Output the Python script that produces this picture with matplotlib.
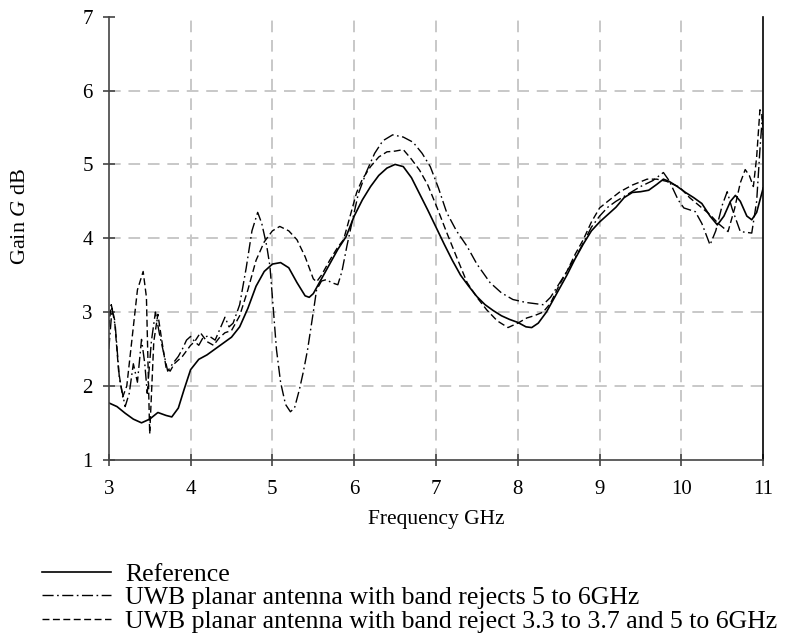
import matplotlib
matplotlib.use("Agg")
import matplotlib.pyplot as plt

plt.rcParams['font.family'] = ['Liberation Serif', 'DejaVu Serif']
plt.rcParams['mathtext.fontset'] = 'custom'
plt.rcParams['mathtext.it'] = 'Liberation Serif:italic'
plt.rcParams['mathtext.rm'] = 'Liberation Serif'

# ---- data ----
ref_f = [3.0, 3.1, 3.2, 3.3, 3.4, 3.5, 3.6, 3.7, 3.77, 3.85, 3.92, 4.0, 4.1, 4.2, 4.3, 4.4,
         4.5, 4.6, 4.7, 4.8, 4.9, 5.0, 5.1, 5.2, 5.3, 5.4, 5.45, 5.5, 5.6, 5.7, 5.8, 5.9,
         6.0, 6.1, 6.2, 6.3, 6.4, 6.5, 6.6, 6.7, 6.8, 6.9, 7.0, 7.1, 7.2, 7.3, 7.4, 7.5,
         7.6, 7.7, 7.8, 7.9, 8.0, 8.1, 8.17, 8.25, 8.35, 8.5, 8.6, 8.7, 8.8, 8.9, 9.0,
         9.1, 9.2, 9.3, 9.4, 9.5, 9.6, 9.7, 9.78, 9.85, 9.95, 10.05, 10.15, 10.25, 10.35,
         10.44, 10.52, 10.6, 10.66, 10.72, 10.8, 10.86, 10.92, 11.0]
ref_g = [1.77, 1.72, 1.63, 1.55, 1.50, 1.55, 1.64, 1.60, 1.58, 1.70, 1.95, 2.22, 2.36, 2.42, 2.50, 2.58,
         2.66, 2.80, 3.05, 3.35, 3.55, 3.65, 3.67, 3.60, 3.40, 3.22, 3.20, 3.25, 3.45, 3.65, 3.85, 4.02,
         4.30, 4.52, 4.70, 4.85, 4.95, 5.00, 4.97, 4.82, 4.60, 4.38, 4.15, 3.92, 3.70, 3.50, 3.35, 3.21,
         3.10, 3.02, 2.95, 2.90, 2.86, 2.80, 2.79, 2.85, 3.00, 3.30, 3.50, 3.72, 3.92, 4.10, 4.22,
         4.32, 4.42, 4.55, 4.62, 4.63, 4.65, 4.73, 4.80, 4.77, 4.70, 4.62, 4.55, 4.47, 4.30,
         4.18, 4.30, 4.50, 4.58, 4.50, 4.30, 4.25, 4.35, 4.68]

bs_f = [3.0, 3.04, 3.08, 3.13, 3.2, 3.25, 3.3, 3.35, 3.4, 3.44, 3.47, 3.52, 3.57, 3.62, 3.67,
        3.72, 3.78, 3.85, 3.9, 3.95, 4.0, 4.05, 4.1, 4.15, 4.22, 4.3, 4.37, 4.42, 4.47, 4.52,
        4.6, 4.68, 4.75, 4.82, 4.87, 4.93, 4.97, 5.0, 5.05, 5.1, 5.16, 5.22, 5.27, 5.33, 5.38,
        5.43, 5.5, 5.54, 5.6, 5.66, 5.72, 5.8, 5.85, 5.91, 5.97, 6.05, 6.15, 6.25, 6.35, 6.47,
        6.6, 6.72, 6.83, 6.93, 7.03, 7.13, 7.25, 7.38, 7.5, 7.66, 7.8, 7.94, 8.1, 8.31, 8.4,
        8.48, 8.6, 8.76, 8.9, 9.0, 9.1, 9.2, 9.35, 9.5, 9.65, 9.78, 9.85, 9.96, 10.03, 10.17,
        10.25, 10.35, 10.42, 10.5, 10.56, 10.62, 10.72, 10.86, 10.92, 10.96, 10.99, 11.0]
bs_g = [2.50, 3.05, 2.80, 2.10, 1.72, 1.90, 2.30, 2.05, 2.63, 2.30, 1.90, 2.60, 3.00, 2.70, 2.45,
        2.20, 2.30, 2.40, 2.50, 2.62, 2.67, 2.60, 2.55, 2.65, 2.68, 2.62, 2.80, 2.93, 2.80, 2.85,
        3.10, 3.60, 4.10, 4.35, 4.20, 3.90, 3.62, 3.20, 2.49, 2.05, 1.75, 1.65, 1.70, 1.95, 2.20,
        2.49, 3.00, 3.30, 3.42, 3.44, 3.40, 3.37, 3.55, 3.89, 4.20, 4.60, 4.90, 5.15, 5.32, 5.40,
        5.37, 5.30, 5.15, 4.97, 4.68, 4.35, 4.10, 3.89, 3.65, 3.40, 3.26, 3.17, 3.13, 3.10, 3.20,
        3.34, 3.55, 3.85, 4.15, 4.30, 4.42, 4.50, 4.60, 4.70, 4.78, 4.89, 4.78, 4.52, 4.41, 4.36,
        4.20, 3.91, 4.10, 4.45, 4.63, 4.40, 4.09, 4.07, 4.50, 5.20, 5.65, 5.40]

dbs_f = [3.0, 3.03, 3.07, 3.12, 3.17, 3.22, 3.28, 3.35, 3.42, 3.46, 3.5, 3.55, 3.6, 3.65, 3.7,
         3.75, 3.8, 3.9, 4.0, 4.05, 4.12, 4.2, 4.28, 4.35, 4.42, 4.5, 4.6, 4.7, 4.8, 4.9, 5.0,
         5.09, 5.2, 5.3, 5.4, 5.5, 5.54, 5.6, 5.7, 5.8, 5.87, 5.95, 6.03, 6.1, 6.2, 6.3, 6.4,
         6.5, 6.6, 6.7, 6.8, 6.9, 7.0, 7.13, 7.25, 7.38, 7.5, 7.62, 7.75, 7.88, 8.0, 8.11, 8.2,
         8.31, 8.4, 8.5, 8.6, 8.7, 8.8, 8.9, 9.0, 9.1, 9.25, 9.4, 9.58, 9.7, 9.82, 9.98, 10.1,
         10.23, 10.35, 10.45, 10.57, 10.65, 10.72, 10.78, 10.83, 10.88, 10.92, 10.96, 10.98, 11.0]
dbs_g = [2.80, 3.10, 2.90, 2.20, 1.85, 2.00, 2.60, 3.30, 3.55, 3.20, 1.35, 2.60, 2.97, 2.60, 2.25,
         2.20, 2.30, 2.40, 2.55, 2.60, 2.72, 2.60, 2.55, 2.65, 2.72, 2.75, 2.95, 3.30, 3.70, 3.95, 4.10,
         4.16, 4.10, 3.98, 3.75, 3.45, 3.41, 3.50, 3.70, 3.88, 3.98, 4.30, 4.62, 4.80, 4.97, 5.10, 5.17,
         5.18, 5.20, 5.07, 4.92, 4.72, 4.45, 4.08, 3.75, 3.40, 3.20, 3.03, 2.88, 2.79, 2.85, 2.92, 2.95,
         3.00, 3.12, 3.35, 3.55, 3.78, 3.98, 4.22, 4.41, 4.50, 4.63, 4.72, 4.80, 4.80, 4.77, 4.69, 4.55,
         4.43, 4.32, 4.20, 4.09, 4.40, 4.75, 4.93, 4.85, 4.70, 5.10, 5.74, 5.70, 5.50]

labels = ["Reference",
          "UWB planar antenna with band rejects 5 to 6GHz",
          "UWB planar antenna with band reject 3.3 to 3.7 and 5 to 6GHz"]
x_ticks = [3, 4, 5, 6, 7, 8, 9, 10, 11]
y_ticks = [1, 2, 3, 4, 5, 6, 7]

# ---- figure ----
fig = plt.figure(figsize=(8.0, 6.43), dpi=100)
ax = fig.add_axes([0.136, 0.285, 0.818, 0.689])

grid_kw = dict(color='#c8c8c8', lw=1.4, linestyle=(0, (6, 4)), zorder=0)
for xv in x_ticks[1:-1]:
    ax.axvline(xv, **grid_kw)
for yv in y_ticks[1:-1]:
    ax.axhline(yv, **grid_kw)

l1, = ax.plot(ref_f, ref_g, color='black', lw=1.2, linestyle='-', label=labels[0])
l2, = ax.plot(bs_f, bs_g, color='black', lw=1.0, linestyle=(0, (8, 2.5, 1.2, 2.5)), label=labels[1])
l3, = ax.plot(dbs_f, dbs_g, color='black', lw=1.0, linestyle=(0, (5, 2.5)), label=labels[2])

ax.set_xlim(3, 11)
ax.set_ylim(1, 7)
ax.set_xticks(x_ticks)
ax.set_yticks(y_ticks)
ax.tick_params(axis='both', direction='inout', length=9, width=1.2, color='#444444',
               labelsize=15)
ax.tick_params(axis='x', pad=10)
ax.tick_params(axis='y', pad=7)

ax.spines['top'].set_visible(False)
ax.spines['left'].set_color('#444444')
ax.spines['bottom'].set_color('#444444')
ax.spines['left'].set_linewidth(1.2)
ax.spines['bottom'].set_linewidth(1.2)
ax.spines['right'].set_color('black')
ax.spines['right'].set_linewidth(1.2)

ax.set_xlabel("Frequency GHz", fontsize=15.5)
ax.xaxis.set_label_coords(0.5, -0.114)
ax.set_ylabel("Gain $G$ dB", fontsize=16)
ax.yaxis.set_label_coords(-0.121, 0.55)

leg = fig.legend(handles=[l1, l2, l3], labels=labels, loc='upper left',
                 bbox_to_anchor=(0.052, 0.125), frameon=False, fontsize=18.5,
                 handlelength=2.7, handletextpad=0.55, labelspacing=0.02,
                 borderpad=0, borderaxespad=0)

fig.savefig("out.png", dpi=100)
